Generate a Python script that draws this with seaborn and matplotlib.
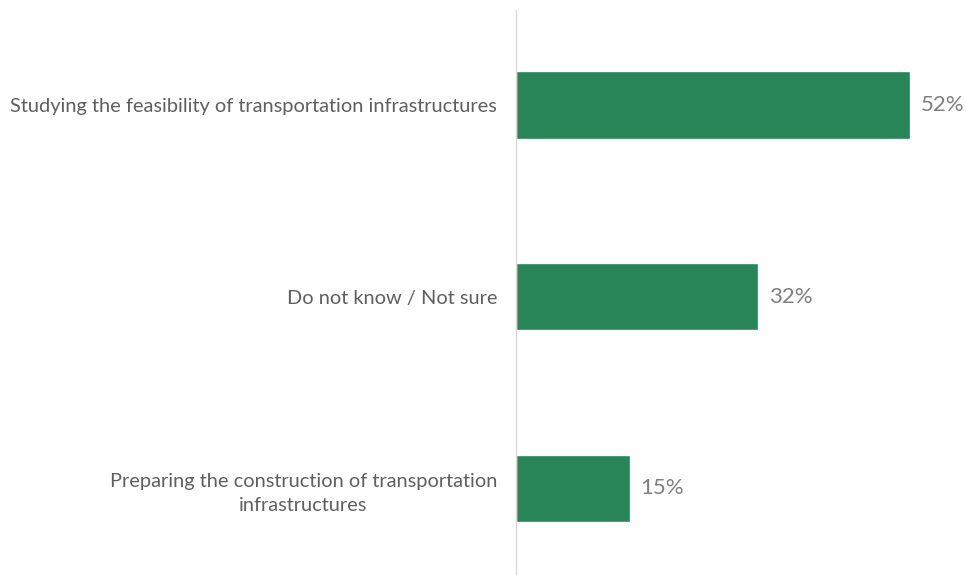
import matplotlib.pyplot as plt
import seaborn as sns
import pandas as pd

# data
categories = [
    "Studying the feasibility of transportation infrastructures",
    "Do not know / Not sure",
    "Preparing the construction of transportation\ninfrastructures",
]
values = [52, 32, 15]

df = pd.DataFrame({"category": categories, "value": values})

sns.set_style("white")
plt.rcParams["font.family"] = ["Lato", "DejaVu Sans"]

fig = plt.figure(figsize=(9.66, 5.75), dpi=100)
ax = fig.add_axes([0.534, 0.0, 0.466, 0.9826])

sns.barplot(data=df, x="value", y="category", orient="h", color="#278558",
            width=0.35, saturation=1, ax=ax)

ax.set_xlim(0, 59.4)
ax.set_ylim(2.454, -0.496)

for i, v in enumerate(values):
    ax.text(v + 1.4, i, f"{v}%", va="center", ha="left", fontsize=16, color="#7f7f7f")

ax.set_xlabel("")
ax.set_ylabel("")
ax.set_xticks([])
ax.tick_params(axis="y", length=0, pad=13.5, labelsize=14.4, labelcolor="#5f5f5f")
for lbl in ax.get_yticklabels():
    lbl.set_multialignment("center")
    lbl.set_linespacing(1.55)

for side in ["top", "right", "bottom"]:
    ax.spines[side].set_visible(False)
ax.spines["left"].set_color("#d9d9d9")
ax.spines["left"].set_linewidth(1)

fig.savefig("out.png", dpi=100)
